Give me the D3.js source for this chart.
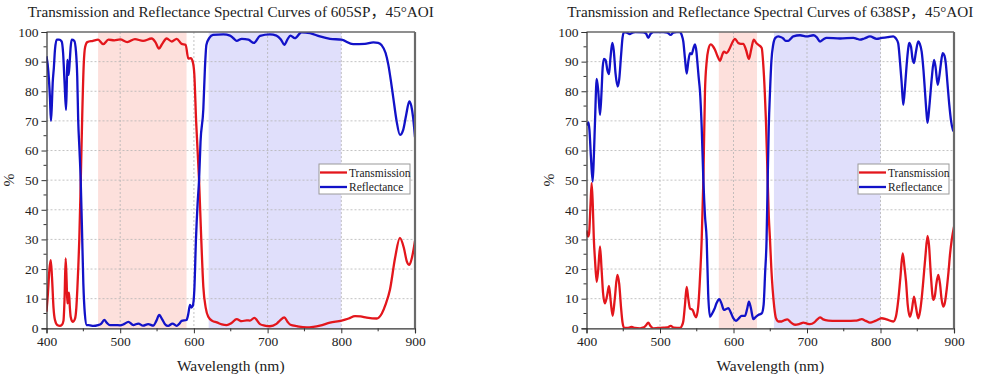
<!DOCTYPE html>
<html><head><meta charset="utf-8">
<script src="https://cdn.jsdelivr.net/npm/d3@7"></script>
<style>
html,body{margin:0;padding:0;background:#fff;}
</style></head>
<body><svg id="c" width="981" height="380"></svg>
<script>
// ---------- data ----------
const titles = ["Transmission and Reflectance Spectral Curves of 605SP\uFF0C45\u00B0AOI",
                "Transmission and Reflectance Spectral Curves of 638SP\uFF0C45\u00B0AOI"];
const seriesNames = ["Transmission", "Reflectance"];
const xTicks = [400, 500, 600, 700, 800, 900];
const yTicks = [0, 10, 20, 30, 40, 50, 60, 70, 80, 90, 100];
const bands605 = [[470, 590, "pass"], [620, 800, "block"]];
const bands638 = [[580, 632, "pass"], [655, 800, "block"]];

const t605 = [[400,5.6],[402,12],[404,20],[405.8,23],[407.5,17],[409.5,7],[411.5,2.8],[415,1],[418,0.8],[421,1.2],[423,2.5],[424.5,10],[426,23.6],[427.3,16],[428.3,8.4],[429.3,10],[430.5,12],[431.7,7],[432.8,3.9],[435.5,2.2],[438.7,3.3],[440.5,7],[441.8,13],[443.2,21],[444.5,30],[446.5,50],[448.5,72],[450.5,89],[452.5,95],[455.4,96.6],[463,97],[470,97.4],[477,95.9],[484,97.4],[492,97.2],[500,97.5],[509.6,96.6],[520,97.6],[531,97],[542.7,97.8],[548,96.5],[552.6,94.4],[557,96],[563,97.8],[570,96.8],[576.6,97.7],[583.4,96],[588.8,95.7],[592.4,91],[595.7,91.2],[598.4,90],[600.5,86],[603,70],[607,50],[610,30],[612.8,14],[616,7],[619.5,3.9],[625,2.5],[631,2],[638,1.3],[644.5,1.1],[651,1.8],[658,3.1],[665,2.4],[671.6,2.7],[676,2.6],[682,3.5],[689.7,1.4],[696,0.9],[703,0.7],[712,1.5],[717,2.7],[722.7,3.7],[727,2.2],[731,1.2],[740,0.7],[753,0.3],[762,0.5],[771,0.9],[784.7,1.9],[800.5,2.6],[810,3.3],[818.6,4.1],[826,4],[834.5,3.6],[848,3.3],[855,5],[860,8],[866,13],[873,23.8],[879.5,30.5],[885,27],[889,22.5],[892.3,21.4],[896,24],[900,29.5]];

const r605 = [[400,91.8],[402.5,86.7],[404.7,77.7],[406,70],[407.2,75],[408.4,82.8],[410,88],[411.5,94],[413.8,97.4],[417,97.4],[420.6,96.8],[422.5,93],[424.5,83],[426.5,73.7],[427.5,82],[428.3,90.6],[429,88],[430,85.5],[431.5,90],[432.8,95],[434.2,97.4],[437.7,97],[440,93.4],[441.7,85],[443,70.4],[444.8,60],[446.4,50],[448,35],[450,15],[452,5],[454.5,1.1],[459,1.0],[463.5,0.8],[470,1.1],[474,1.5],[478.4,2.8],[482,1.8],[486,1.1],[493,1.1],[500,1.0],[505,1.4],[511,2.2],[517.8,1.1],[524.6,1.6],[531,0.9],[538,1.4],[545,0.9],[549,2.5],[553,4.5],[557,3],[560.8,1.4],[565,0.8],[571,1.6],[576.6,0.8],[580,1.5],[583.4,2.5],[590,2.8],[592.5,5],[594.7,7.9],[596.5,7],[598.4,7.5],[600.6,13],[602.8,30],[605,42],[607,50],[609,63],[612.8,74],[615,88],[617,95.7],[621,98],[626,99],[640,99.2],[649,98.8],[654,97.8],[658,97],[665,97.7],[674,97.4],[681.5,96.3],[689.7,98.7],[703,99.2],[712,98.8],[718,97.5],[722.7,95.7],[727,97.5],[731,98.8],[737,97.9],[746,99.9],[757.5,99.6],[771,98.5],[784.7,97.7],[800.5,97.4],[816,95.9],[832,96],[843.5,96.5],[850,96.3],[854.8,95.5],[860,93],[863.8,89],[867,84],[870.6,77.7],[875,70],[879.6,65.3],[884,67],[888,72],[892.3,76.6],[895,75],[897.5,71],[900,64.5]];

const t638 = [[400,33],[402,31],[403.5,32],[405.5,42],[407,49],[408.5,42],[410,30],[411.6,23],[413.9,15.7],[416,20],[418.4,27.6],[420.5,20],[422.5,12],[425,8.4],[428,11],[430.6,14.3],[433,9],[435.6,4.2],[438.5,10],[441.9,18],[444.5,15],[447,7],[449,2],[451,0.2],[455,0.1],[459,0.3],[461.5,0.5],[466,0.1],[472.8,0],[478,0.3],[481,1],[484,1.9],[487,0.8],[491,0],[497,0.1],[504.5,0.2],[510,0.3],[514.5,0.8],[519,0.2],[527.2,0.1],[530,1],[531.7,2.4],[534,8],[536.3,14],[538.5,10],[540.8,6.7],[544.4,6.2],[547,4.5],[549,3.7],[552,7.3],[554,15],[556.7,29.8],[559,50],[561.2,80],[563.5,90],[565.7,94],[569,95.8],[572,95.2],[574.8,94],[578,92],[581.6,90.3],[585,92.5],[587,93.4],[590.7,92.9],[593.9,94],[598,96.2],[602,97.7],[606.5,96.3],[610,96],[613.3,96],[617,94],[621,90.9],[624,94],[627.5,97.4],[631,96.3],[633.7,95.7],[638.4,94.6],[640.5,89],[642.5,80],[644,71],[646.5,50],[648,38],[649.7,29.8],[651.5,20],[653.3,13],[655.5,7],[657.8,3.4],[661,2.3],[665.6,2.3],[669,2.7],[673.2,3],[678,2],[683.7,1.2],[690,1.5],[695,1.9],[700,1.6],[704,1.4],[710,2],[714,3],[717.7,3.7],[722,3],[729,2.6],[740,2.5],[754,2.5],[765.3,2.6],[770,2.8],[774.4,3.1],[780,2.5],[785.7,1.9],[793,2.5],[801.6,3.4],[808,3],[817.4,2.3],[821,4],[824.2,9.6],[827,17],[830.2,25.3],[832.5,21],[834.7,15.9],[837,8],[840,3.9],[842.5,6],[845.6,10.7],[848,7.5],[851.4,3.4],[854,6],[856,10],[858.2,15.9],[861,24],[864,31.2],[866,28],[868.5,18],[871.8,9.6],[874,11],[876,15],[878.6,18],[881,15],[883,10],[885.4,7.3],[887.5,8.5],[890,13],[892.5,19],[894.6,25],[897,30],[900,34.3]];

const r638 = [[400,68.7],[401.5,69],[402.6,69.5],[404,67],[406,58],[408.4,49.5],[410,58],[411.6,70],[413.9,84.2],[416,80],[418.4,72],[420.5,80],[422,88],[423.8,90.9],[426,90.5],[428.5,87],[430.6,85.8],[432.5,91],[435.1,96.3],[437,94],[439.5,86],[442.4,81.6],[444.5,84],[447,92],[449,98],[451,100],[455,99.8],[459,99.3],[462,99.7],[466,100],[477,99.9],[481,99.5],[484,98],[487,99.3],[491,100],[504.5,100],[510,99.8],[514.5,99],[518,99.8],[522.7,100],[527,100],[529.5,99],[531.7,96.8],[534,91],[536.3,86],[538.5,90],[540.8,92.9],[543,92.5],[545.5,94.5],[547.6,95.8],[549.5,93.5],[550.8,90],[552.5,85],[554.4,80],[556.7,68],[559,50],[561.2,38],[563.5,30],[565.5,12],[568,3.9],[571,5],[574,6.5],[577,8.5],[580.7,9.8],[583.5,8.5],[587,6.2],[590,6.5],[593,6.8],[596,5.5],[599.5,3.5],[603.4,2.5],[607,3.3],[611,4.2],[615.6,4.2],[618.5,6.5],[621,9],[623.5,7],[627,3.1],[630,3.8],[633.7,4.5],[638.4,5],[641,8],[643,18.6],[645,30],[646.5,50],[648,68],[649.7,80],[651.5,90],[654,95.7],[657,98],[661,98.5],[664,98.3],[667.7,97.8],[671,97],[674.6,97],[678,97.8],[681.4,98.5],[690.5,98.9],[699.6,98.5],[708.6,98.9],[713,98.3],[717.7,96.8],[722,97.5],[726.8,98],[745,97.8],[763,98],[767,97.8],[772,97.4],[778,97.8],[785.7,98.5],[794.8,97.7],[801.6,98],[810,98.3],[817.4,98.5],[821,97.8],[824,96.3],[826.5,90],[828.8,82.8],[831,75.4],[833.5,82],[835.6,89],[837.5,94],[839,96.3],[841.5,95],[843.5,91],[845.6,89.5],[848,93],[851.4,96.8],[853.5,96],[856,93.4],[858.5,87],[860.5,80],[862.5,73],[864,69.3],[866.5,75],[869.6,84],[872.8,90.6],[875,88],[877.8,82.2],[880,85],[882,89],[884.6,92.9],[887,92],[889,89],[891,83],[893.6,75.4],[896,70],[898.5,67],[900,66.4]];

// ---------- drawing ----------
const FONT = "'Liberation Serif', 'Noto Sans CJK SC', serif";
const svg = d3.select("#c").attr("font-family", FONT);
const colors = {T: "#e3161c", R: "#1212c8"};
const bandFill = {pass: "#fde0dc", block: "#e0dffb"};

function panel(idx, x0, x1, title, bands, tData, rData) {
  const top = 32, bottom = 328.3;
  const x = d3.scaleLinear().domain([400, 900]).range([x0, x1]);
  const y = d3.scaleLinear().domain([0, 100]).range([bottom, top]);
  const g = svg.append("g");
  const clipId = "clip" + idx;
  g.append("clipPath").attr("id", clipId).append("rect")
    .attr("x", x0).attr("y", top).attr("width", x1 - x0).attr("height", bottom - top);

  g.append("g").selectAll("rect").data(bands).join("rect")
    .attr("x", d => x(d[0])).attr("width", d => x(d[1]) - x(d[0]))
    .attr("y", top).attr("height", bottom - top)
    .attr("fill", d => bandFill[d[2]]);

  const grid = g.append("g").attr("stroke", "#b4b4b4").attr("stroke-width", 0.8)
    .attr("stroke-dasharray", "2,2");
  grid.selectAll("line.v").data(xTicks.slice(1, -1)).join("line")
    .attr("x1", d => x(d)).attr("x2", d => x(d)).attr("y1", top).attr("y2", bottom);
  grid.selectAll("line.h").data(yTicks.slice(1, -1)).join("line")
    .attr("y1", d => y(d)).attr("y2", d => y(d)).attr("x1", x0).attr("x2", x1);

  const line = d3.line().x(d => x(d[0])).y(d => y(d[1])).curve(d3.curveMonotoneX);
  const lg = g.append("g").attr("clip-path", `url(#${clipId})`);
  lg.append("path").attr("d", line(tData)).attr("fill", "none")
    .attr("stroke", colors.T).attr("stroke-width", 2.3).attr("stroke-linejoin", "round");
  lg.append("path").attr("d", line(rData)).attr("fill", "none")
    .attr("stroke", colors.R).attr("stroke-width", 2.3).attr("stroke-linejoin", "round");

  g.append("line").attr("x1", x0).attr("x2", x1).attr("y1", top).attr("y2", top)
    .attr("stroke", "#6a6a6a").attr("stroke-width", 1.5);
  g.append("line").attr("x1", x1).attr("x2", x1).attr("y1", top).attr("y2", bottom)
    .attr("stroke", "#6a6a6a").attr("stroke-width", 2.2);

  const xAxis = d3.axisBottom(x).tickValues(xTicks).tickSize(5).tickPadding(3).tickFormat(d3.format("d"));
  const gx = g.append("g").attr("transform", `translate(0,${bottom})`).call(xAxis);
  const yAxis = d3.axisLeft(y).tickValues(yTicks).tickSize(5).tickPadding(3).tickFormat(d3.format("d"));
  const gy = g.append("g").attr("transform", `translate(${x0},0)`).call(yAxis);
  [gx, gy].forEach(a => {
    a.attr("font-family", FONT).attr("font-size", 13.5);
    a.select(".domain").attr("stroke", "#333").attr("stroke-width", 1.2);
    a.selectAll(".tick line").attr("stroke", "#333").attr("stroke-width", 1);
    a.selectAll(".tick text").attr("fill", "#222");
  });
  const xMinor = d3.range(450, 900, 100);
  g.append("g").selectAll("line").data(xMinor).join("line")
    .attr("x1", d => x(d)).attr("x2", d => x(d)).attr("y1", bottom).attr("y2", bottom + 3)
    .attr("stroke", "#333");
  const yMinor = d3.range(5, 100, 10);
  g.append("g").selectAll("line").data(yMinor).join("line")
    .attr("y1", d => y(d)).attr("y2", d => y(d)).attr("x1", x0).attr("x2", x0 - 3)
    .attr("stroke", "#333");

  g.append("text").attr("x", (x0 + x1) / 2).attr("y", 17).attr("text-anchor", "middle")
    .attr("font-size", 15.2).attr("fill", "#222").text(title);
  g.append("text").attr("x", (x0 + x1) / 2).attr("y", 371).attr("text-anchor", "middle")
    .attr("font-size", 15.5).attr("fill", "#222").text("Wavelength (nm)");
  g.append("text").attr("transform", `translate(${x0 - 33},${(top + bottom) / 2}) rotate(-90)`)
    .attr("text-anchor", "middle").attr("font-size", 15.5).attr("fill", "#222").text("%");

  const lx = x1 - 96, ly = 164;
  const leg = g.append("g");
  leg.append("rect").attr("x", lx).attr("y", ly).attr("width", 91).attr("height", 30)
    .attr("fill", "#fff").attr("stroke", "#9a9a9a").attr("stroke-width", 1);
  const items = [[seriesNames[0], colors.T], [seriesNames[1], colors.R]];
  items.forEach((it, i) => {
    const yy = ly + 8.5 + i * 14.5;
    leg.append("line").attr("x1", lx + 1).attr("x2", lx + 28).attr("y1", yy).attr("y2", yy)
      .attr("stroke", it[1]).attr("stroke-width", 2.3);
    leg.append("text").attr("x", lx + 30).attr("y", yy + 4).attr("font-size", 11.5)
      .attr("fill", "#222").text(it[0]);
  });
}

panel(0, 46.5, 415, titles[0], bands605, t605, r605);
panel(1, 586.5, 954, titles[1], bands638, t638, r638);
svg.selectAll("text").style("font-family", FONT);
</script></body></html>
